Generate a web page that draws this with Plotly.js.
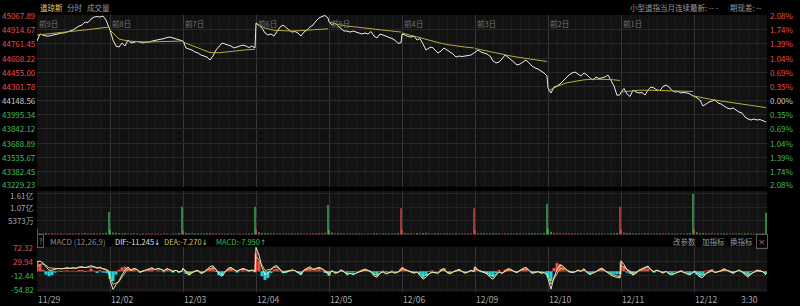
<!DOCTYPE html>
<html><head><meta charset="utf-8">
<script src="https://cdn.plot.ly/plotly-3.0.1.min.js"></script>
<style>html,body{margin:0;padding:0;background:#000;overflow:hidden}#chart{width:800px;height:306px}</style>
</head><body><div id="chart"></div>
<script>
// ---------- data ----------
const prevClose = 44148.56;
const dayTags = ['前9日','前8日','前7日','前6日','前5日','前4日','前3日','前2日','前1日',''];
const dateLabels = ['11/29','12/02','12/03','12/04','12/05','12/06','12/09','12/10','12/11','12/12'];
const lastTime = '3:30';
const priceTicks = [45067.89,44914.67,44761.45,44608.22,44455.00,44301.78,44148.56,43995.34,43842.12,43688.89,43535.67,43382.45,43229.23];
const pctLabels = ['2.08%','1.74%','1.39%','1.04%','0.69%','0.35%','0.00%','0.35%','0.69%','1.04%','1.39%','1.74%','2.08%'];
const volTicks = [16119,10746,5373];
const volLabels = ['1.61亿','1.07亿','5373万'];
const macdTicks = [72.32,29.94,-12.44,-54.82];

// price (one value every 3 minutes-slot), per day
const price1 = [44792,44868,44857,44846,44846,44857,44862,44868,44879,44879,44889,44900,44911,44933,44954,44965,44997,44992,45030,45051,45057,45051,45062,45019,44943];
const price2 = [44911,44803,44738,44727,44771,44738,44803,44771,44781,44787,44781,44771,44781,44781,44792,44798,44803,44808,44819,44830,44835,44825,44814,44803,44792];
const price3 = [44792,44717,44706,44695,44673,44663,44641,44630,44619,44587,44630,44695,44738,44771,44760,44749,44738,44717,44727,44738,44749,44738,44722,44738,44717];
const price4 = [44987,44965,44933,44879,44857,44868,44846,44889,44943,44965,44933,44911,44889,44895,44879,44846,44889,44911,44943,44965,45008,45041,45057,45067.89,45041];
const price5 = [44997,44965,44987,44954,44922,44900,44900,44889,44900,44889,44879,44868,44879,44868,44895,44846,44825,44868,44857,44846,44835,44819,44800,44768,44772];
const price6 = [44868,44857,44841,44835,44846,44803,44819,44760,44695,44717,44727,44695,44663,44684,44717,44695,44673,44652,44619,44630,44625,44630,44641,44641,44663];
const price7 = [44673,44695,44673,44663,44652,44630,44576,44555,44565,44598,44641,44619,44587,44565,44533,44544,44565,44587,44555,44522,44501,44490,44468,44447,44414];
const price8 = [44285,44231,44295,44306,44328,44360,44393,44425,44447,44457,44436,44414,44447,44425,44393,44371,44403,44387,44393,44403,44425,44371,44306,44205,44212];
const price9 = [44241,44279,44220,44193,44263,44241,44231,44236,44209,44263,44295,44285,44263,44258,44301,44317,44295,44258,44241,44247,44231,44236,44231,44220,44198];
const price10 = [44198,44177,44155,44090,44112,44133,44144,44155,44123,44112,44090,44069,44058,44069,44047,44025,44015,43971,43950,43939,43950,43939,43944,43934,43917];

// average price line, 9 samples per day
const avg1 = [44857,44866,44874,44885,44896,44908,44920,44933,44943];
const avg2 = [44911,44814,44792,44785,44781,44784,44787,44790,44792];
const avg3 = [44781,44744,44700,44668,44665,44676,44690,44697,44703];
const avg4 = [44976,44933,44908,44900,44900,44905,44911,44919,44924];
const avg5 = [44997,44970,44954,44943,44933,44922,44911,44900,44889];
const avg6 = [44879,44852,44825,44798,44776,44754,44738,44727,44717];
const avg7 = [44711,44690,44668,44646,44630,44614,44600,44587,44571];
const avg8 = [44252,44301,44339,44360,44373,44380,44382,44376,44366];
const avg9 = [44241,44252,44260,44261,44258,44254,44252,44250,44247];
const avg10 = [44198,44177,44160,44144,44130,44116,44101,44087,44073];

// volume (万)
const vol1 = [2190,520,430,610,380,450,360,410,520,330,400,460,380,350,470,540,620,410,500,560,430,380,450,700,9075];
const vol2 = [1850,820,650,540,480,600,420,380,450,360,330,400,370,350,420,300,380,340,360,400,330,390,420,560,11064];
const vol3 = [1620,700,560,480,520,450,400,430,470,600,520,480,440,380,360,410,350,390,340,370,330,360,400,520,11064];
const vol4 = [2050,880,620,560,500,470,520,440,480,410,390,430,380,360,400,440,370,350,420,460,520,580,610,680,11741];
const vol5 = [1780,760,540,480,450,420,390,410,380,360,400,350,330,370,420,450,510,390,360,380,400,430,460,580,10428];
const vol6 = [1690,640,520,470,430,560,480,610,650,520,450,480,500,430,470,440,410,420,460,380,360,390,370,480,10428];
const vol7 = [1720,590,480,450,420,460,540,510,470,430,460,410,440,420,480,450,400,420,450,480,500,470,520,640,12139];
const vol8 = [2300,1100,720,610,560,520,480,500,460,430,410,440,400,380,420,390,370,400,380,360,400,460,530,620,11064];
const vol9 = [1950,780,620,560,500,460,440,420,460,480,440,400,420,380,450,410,390,430,400,380,360,390,420,560,16119];
const vol10 = [2000,850,640,590,520,480,460,430,450,420,460,440,410,390,430,450,420,480,460,430,400,420,410,450,8676];

// MACD: DIF line and MACD histogram
const dif1 = [29,31,25,13,3,3,7,9,7,9,11,9,11,9,13,14,11,13,17,14,9,13,7,4,-3];
const hist1 = [28,20,5,-10,-15,-12,-4,2,-2,2,3,-1,2,-1,4,4,-2,2,8,2,-5,4,-4,-5,-8];
const dif2 = [-26,-54.82,-41,-29,-11,4,13,4,9,6,-3,1,5,9,11,5,9,6,1,9,5,-1,3,-3,1];
const hist2 = [-22,-30,-10,5,12,14,12,4,4,2,-4,-1,2,5,6,0,3,1,-3,4,1,-4,0,-4,-1];
const dif3 = [9,-3,-11,-5,1,3,-7,-3,7,14,17,5,-9,-15,-1,9,12,5,-1,5,9,5,1,4,-1];
const hist3 = [1,-8,-12,-4,2,3,-6,-3,5,10,12,-2,-12,-14,-2,6,8,1,-4,1,5,1,-2,1,-3];
const dif4 = [72.32,49,11,-11,-5,4,15,17,6,-4,-2,1,4,2,-6,-11,4,9,14,6,9,12,8,-1,-6];
const hist4 = [55,30,-15,-26,-20,-5,6,8,2,-6,-5,-2,1,0,-5,-9,3,6,9,2,4,6,2,-5,-8];
const dif5 = [-11,2,-6,-4,4,-1,-11,-6,-10,-6,-2,4,7,3,-2,-14,-18,-6,-1,-8,-5,-1,-6,-2,6];
const hist5 = [-14,2,-3,-1,5,2,-6,-2,-4,-1,2,5,7,2,-3,-10,-14,-2,2,-3,-1,2,-2,1,7];
const dif6 = [12,6,2,-4,-6,-2,-14,-24,-18,-8,-2,-4,-6,4,9,-4,-8,-2,2,6,0,-6,-2,3,-1];
const hist6 = [10,4,1,-3,-4,0,-10,-20,-12,-2,3,1,-1,6,9,-2,-5,0,3,6,1,-4,0,3,-1];
const dif7 = [14,4,-1,-4,-8,-18,-24,-11,-1,-6,2,8,6,-1,-4,4,9,12,4,-6,-4,-1,-6,-4,-11];
const hist7 = [12,2,-3,-5,-8,-15,-18,-5,4,0,5,8,5,-1,-3,3,6,8,1,-6,-3,0,-3,-1,-6];
const dif8 = [-21,-54,-18,4,19,16,6,-1,-4,-2,4,0,8,-4,-10,-6,-1,6,10,2,-6,-12,-16,-18,-20];
const hist8 = [-18,-30,10,25,22,12,2,-3,-4,-1,3,0,6,-3,-6,-3,0,5,8,1,-4,-8,-9,-9,-8];
const dif9 = [32,20,4,-2,-11,-6,4,8,14,16,4,-2,4,-1,-6,0,-8,-11,-6,-2,1,-4,-8,-11,-4];
const hist9 = [28,15,-4,-8,-12,-6,3,5,8,8,0,-4,2,-1,-4,1,-4,-6,-2,1,3,-1,-4,-6,0];
const dif10 = [-1,-8,-18,-18,-6,-1,4,-4,-2,2,8,4,-1,-6,-1,4,-2,-10,-18,-8,-2,3,2,-2,-11.245];
const hist10 = [-4,-10,-16,-12,2,4,6,-1,0,3,7,2,-3,-6,-1,3,-3,-9,-14,-3,2,5,4,-2,-7.95];

// ---------- build ----------
const SLOTS = 73, STEP = 3, AVG_STEP = 9;
const prices = [price1,price2,price3,price4,price5,price6,price7,price8,price9,price10];
const avgs = [avg1,avg2,avg3,avg4,avg5,avg6,avg7,avg8,avg9,avg10];
const vols = [vol1,vol2,vol3,vol4,vol5,vol6,vol7,vol8,vol9,vol10];
const difs = [dif1,dif2,dif3,dif4,dif5,dif6,dif7,dif8,dif9,dif10];
const hists = [hist1,hist2,hist3,hist4,hist5,hist6,hist7,hist8,hist9,hist10];

const RED = '#e5504b', GREEN = '#3fbf5a', CYAN = '#1fd6de';
let px = [], py = [];
prices.forEach((arr, d) => arr.forEach((v, i) => { px.push(d*SLOTS + i*STEP); py.push(v); }));
let ax = [], ay = [];
avgs.forEach((arr, d) => { arr.forEach((v, i) => { ax.push(d*SLOTS + i*AVG_STEP); ay.push(v); }); ax.push(d*SLOTS + 72.5); ay.push(null); });
let vx = [], vy = [], vc = [];
let k = 0;
vols.forEach((arr, d) => arr.forEach((v, i) => {
  vx.push(d*SLOTS + i*STEP); vy.push(v);
  const prev = k > 0 ? py[k-1] : prevClose;
  vc.push(py[k] >= prev ? RED : GREEN); k++;
}));
let mx = [], mdif = [], mdea = [], mh = [], mhc = [];
difs.forEach((arr, d) => arr.forEach((v, i) => {
  const h = hists[d][i];
  mx.push(d*SLOTS + i*STEP); mdif.push(v); mdea.push(v - h/2); mh.push(h); mhc.push(h >= 0 ? RED : CYAN);
}));

const W = 800, H = 306;
const pxX = p => p / W, pxY = p => 1 - p / H;
const FONT = '"Noto Sans CJK SC", "Noto Sans", sans-serif';

const traces = [
  {x: px, y: py, type: 'scatter', mode: 'lines', line: {color: '#ececec', width: 1}, xaxis: 'x', yaxis: 'y', hoverinfo: 'skip'},
  {x: ax, y: ay, type: 'scatter', mode: 'lines', line: {color: '#b8aa3e', width: 1}, xaxis: 'x', yaxis: 'y', hoverinfo: 'skip'},
  {x: vx, y: vy, type: 'bar', width: 1.3, marker: {color: vc, line: {width: 0}}, xaxis: 'x2', yaxis: 'y2', hoverinfo: 'skip'},
  {x: mx, y: mh, type: 'bar', width: 3, marker: {color: mhc, line: {width: 0}}, xaxis: 'x3', yaxis: 'y3', hoverinfo: 'skip'},
  {x: mx, y: mdea, type: 'scatter', mode: 'lines', line: {color: '#d4c752', width: 1}, xaxis: 'x3', yaxis: 'y3', hoverinfo: 'skip'},
  {x: mx, y: mdif, type: 'scatter', mode: 'lines', line: {color: '#e6e2c8', width: 1}, xaxis: 'x3', yaxis: 'y3', hoverinfo: 'skip'}
];

const xCommon = {
  range: [0, SLOTS*10], domain: [pxX(37), pxX(767)], showticklabels: false, ticks: '', showline: false, zeroline: false,
  tickmode: 'linear', tick0: 0, dtick: SLOTS, gridcolor: '#363636', gridwidth: 1,
  minor: {tickmode: 'linear', tick0: 0, dtick: SLOTS/8, showgrid: true, gridcolor: '#1c1c1c', gridwidth: 1, ticks: ''},
  fixedrange: true
};
const yCommon = {showticklabels: false, ticks: '', showline: false, zeroline: false, tickmode: 'array', fixedrange: true};

const ann = [];
const A = (o) => ann.push(Object.assign({showarrow: false, borderpad: 0, font: {family: FONT, size: 8, color: '#a0a0a0'}}, o));
const colorFor = v => Math.abs(v - prevClose) < 0.01 ? '#c8c8c8' : (v > prevClose ? RED : GREEN);
const NUM = 8;
const lastIdx = priceTicks.length - 1;
priceTicks.forEach((v, i) => {
  const ys = i === lastIdx ? 1.5 : 0;
  A({xref: 'paper', yref: 'y', x: pxX(1), y: v, yshift: ys, xanchor: 'left', yanchor: 'middle', text: v.toFixed(2), font: {family: FONT, size: NUM, color: colorFor(v)}});
  A({xref: 'paper', yref: 'y', x: pxX(769), y: v, yshift: ys, xanchor: 'left', yanchor: 'middle', text: pctLabels[i], font: {family: FONT, size: NUM, color: colorFor(v)}});
});
volTicks.forEach((v, i) => A({xref: 'paper', yref: 'y2', x: pxX(34.5), y: v, yshift: i === 0 ? -1.5 : 0, xanchor: 'right', yanchor: 'middle', text: volLabels[i], font: {family: FONT, size: NUM, color: '#a8a8a8'}}));
macdTicks.forEach(v => A({xref: 'paper', yref: 'y3', x: pxX(34.5), y: v, xanchor: 'right', yanchor: 'middle', text: v.toFixed(2), font: {family: FONT, size: NUM, color: v > 0 ? RED : GREEN}}));
dateLabels.forEach((t, d) => A({xref: 'x3', yref: 'paper', x: d*SLOTS, y: pxY(299), xanchor: 'left', yanchor: 'middle', text: t, font: {family: FONT, size: 8.5, color: '#a8a8a8'}}));
A({xref: 'paper', yref: 'paper', x: pxX(759), y: pxY(299), xanchor: 'right', yanchor: 'middle', text: lastTime, font: {family: FONT, size: 8.5, color: '#a8a8a8'}});
dayTags.forEach((t, d) => { if (t) A({xref: 'x', yref: 'paper', x: d*SLOTS + 1, y: pxY(23.5), xanchor: 'left', yanchor: 'middle', text: t, font: {family: FONT, size: 7.5, color: '#727272'}}); });
// header
A({xref: 'paper', yref: 'paper', x: pxX(39), y: pxY(7.5), xanchor: 'left', yanchor: 'middle', text: '道琼斯', font: {family: FONT, size: 7.5, color: '#e4d27c'}});
A({xref: 'paper', yref: 'paper', x: pxX(66), y: pxY(7.5), xanchor: 'left', yanchor: 'middle', text: '分时', font: {family: FONT, size: 7.5, color: '#9c9c9c'}});
A({xref: 'paper', yref: 'paper', x: pxX(86), y: pxY(7.5), xanchor: 'left', yanchor: 'middle', text: '成交量', font: {family: FONT, size: 7.5, color: '#9c9c9c'}});
A({xref: 'paper', yref: 'paper', x: pxX(629), y: pxY(7.5), xanchor: 'left', yanchor: 'middle', text: '小型道指当月连续最新: -- -', font: {family: FONT, size: 7.5, color: '#9c9c9c'}});
A({xref: 'paper', yref: 'paper', x: pxX(729), y: pxY(7.5), xanchor: 'left', yanchor: 'middle', text: '期现差: --', font: {family: FONT, size: 7.5, color: '#9c9c9c'}});
// MACD header
const MY = pxY(241);
const arrow = a => '<span style="font-family:\'DejaVu Sans\'">' + a + '</span>';
A({xref: 'paper', yref: 'paper', x: pxX(40.5), y: MY, xanchor: 'center', yanchor: 'middle', text: '?', bordercolor: '#5a5a5a', borderwidth: 1, borderpad: 1, font: {family: FONT, size: 7, color: '#a0a0a0'}});
A({xref: 'paper', yref: 'paper', x: pxX(49), y: MY, xanchor: 'left', yanchor: 'middle', text: 'MACD (12,26,9)', font: {family: FONT, size: 8, color: '#909090'}});
A({xref: 'paper', yref: 'paper', x: pxX(114), y: MY, xanchor: 'left', yanchor: 'middle', text: 'DIF:-11.245' + arrow('↓'), font: {family: FONT, size: 7.5, color: '#e2e2e2'}});
A({xref: 'paper', yref: 'paper', x: pxX(163), y: MY, xanchor: 'left', yanchor: 'middle', text: 'DEA:-7.270' + arrow('↓'), font: {family: FONT, size: 7.5, color: '#d8c654'}});
A({xref: 'paper', yref: 'paper', x: pxX(215), y: MY, xanchor: 'left', yanchor: 'middle', text: 'MACD:-7.950' + arrow('↑'), font: {family: FONT, size: 7.5, color: GREEN}});
A({xref: 'paper', yref: 'paper', x: pxX(672), y: MY, xanchor: 'left', yanchor: 'middle', text: '改参数', font: {family: FONT, size: 7.5, color: '#9c9c9c'}});
A({xref: 'paper', yref: 'paper', x: pxX(701), y: MY, xanchor: 'left', yanchor: 'middle', text: '加指标', font: {family: FONT, size: 7.5, color: '#9c9c9c'}});
A({xref: 'paper', yref: 'paper', x: pxX(729), y: MY, xanchor: 'left', yanchor: 'middle', text: '换指标', font: {family: FONT, size: 7.5, color: '#9c9c9c'}});
A({xref: 'paper', yref: 'paper', x: pxX(761.5), y: MY, xanchor: 'center', yanchor: 'middle', text: '×', bordercolor: '#5a5a5a', borderwidth: 1, borderpad: 1, font: {family: FONT, size: 7.5, color: '#a0a0a0'}});

const layout = {
  width: W, height: H, margin: {l: 0, r: 0, t: 0, b: 0},
  paper_bgcolor: '#000000', plot_bgcolor: '#121212', showlegend: false,
  xaxis: Object.assign({}, xCommon, {anchor: 'y'}),
  xaxis2: Object.assign({}, xCommon, {anchor: 'y2', matches: 'x'}),
  xaxis3: Object.assign({}, xCommon, {anchor: 'y3', matches: 'x'}),
  yaxis: Object.assign({}, yCommon, {domain: [pxY(186.5), pxY(15)], range: [43220.58, 45073.29], tickvals: priceTicks, gridcolor: '#282828'}),
  yaxis2: Object.assign({}, yCommon, {domain: [pxY(235), pxY(191)], range: [-199, 17291], tickvals: volTicks, gridcolor: '#232323'}),
  yaxis3: Object.assign({}, yCommon, {domain: [pxY(292), pxY(246.5)], range: [-62.7, 75.1], tickvals: macdTicks, gridcolor: '#232323', zeroline: true, zerolinecolor: '#2c2c2c', zerolinewidth: 1}),
  shapes: [
    {type: 'line', xref: 'x', yref: 'y', x0: 0, x1: SLOTS*10, y0: prevClose, y1: prevClose, line: {color: '#4e4e4e', width: 1}, layer: 'below'}
  ],
  annotations: ann
};

Plotly.newPlot('chart', traces, layout, {staticPlot: true, displayModeBar: false});
</script>
</body></html>
